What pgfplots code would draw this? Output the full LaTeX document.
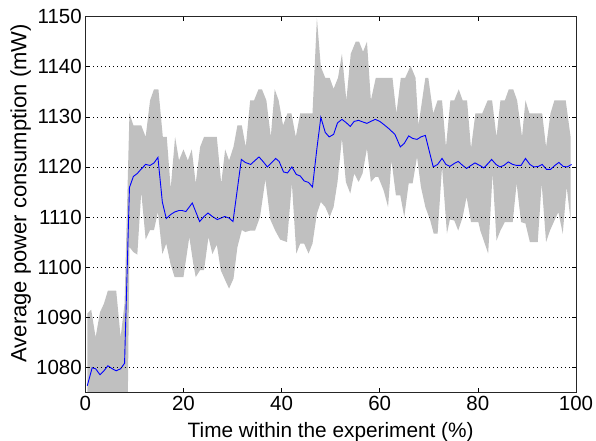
\documentclass[border=0pt]{standalone}
\usepackage{fontspec}
\setmainfont{Liberation Sans}
\usepackage{pgfplots}
\pgfplotsset{compat=1.18}
\definecolor{bandgray}{RGB}{192,192,192}

\begin{document}
\begin{tikzpicture}
\useasboundingbox (-85.3bp,-48.7bp) rectangle (510.7bp,392.3bp);
\begin{axis}[
  at={(0,0)}, anchor=south west,
  scale only axis,
  width=490.7bp, height=375.6bp,
  xmin=0, xmax=100, ymin=1075, ymax=1150,
  xtick={0,20,...,100}, ytick={1080,1090,...,1150},
  tick pos=both, tick align=inside,
  major tick length=4bp,
  tick style={black, line width=0.6bp},
  ymajorgrids,
  grid style={black, line width=0.7bp, dash pattern=on 0.7bp off 3.3bp},
  axis on top,
  axis line style={black!85, line width=1bp},
  /pgf/number format/assume math mode=true,
  /pgf/number format/set thousands separator={},
  tick label style={font=\fontsize{20.5bp}{24bp}\selectfont},
  xlabel={Time within the experiment (\%)},
  ylabel={Average power consumption (mW)},
  xlabel style={font=\fontsize{20.8bp}{24bp}\selectfont,
    at={(axis description cs:0.5,0)}, anchor=base, yshift=-45bp},
  ylabel style={font=\fontsize{22bp}{26bp}\selectfont,
    at={(axis description cs:0,0.53)}, anchor=base, yshift=59bp},
]
% spread of the measurements: upper edge, then lower edge backwards
\addplot[fill=bandgray, draw=none] coordinates {
  (0.4,1090.7) (1.2,1091.5) (2.1,1086) (3.0,1091) (3.8,1092.7) (4.6,1095.3)
  (6.3,1095.3) (7.2,1086) (8.0,1092.7) (9.0,1130.7) (9.8,1128.3) (11.4,1128.3)
  (12.3,1126) (13.2,1133.3) (14.0,1135.5) (14.9,1135.5) (15.8,1126) (16.6,1126)
  (17.4,1115.7) (18.3,1126) (19.1,1121.3) (20.0,1123.5) (20.9,1121.3) (21.7,1123.5)
  (22.5,1116.7) (23.4,1124) (24.2,1126) (26.8,1126) (27.7,1116.7) (28.5,1123.5)
  (29.3,1121.3) (30.2,1124) (31.0,1128.3) (31.9,1128.3) (32.7,1124) (33.6,1133.3)
  (34.4,1133.3) (35.3,1135.5) (36.0,1135.5) (36.9,1133.3) (37.8,1126) (38.6,1135.5)
  (39.4,1133.3) (40.3,1128.3) (41.2,1130.7) (42.0,1130.7) (42.9,1126) (43.8,1130.7)
  (46.3,1130.7) (47.2,1149.7) (48.0,1140) (48.9,1137.8) (49.8,1137.8) (50.6,1135.6)
  (51.5,1137.8) (52.3,1142.6) (53.2,1133.3) (54.1,1142.6) (55.1,1145) (55.8,1145)
  (56.6,1143) (57.4,1145) (58.2,1133.3) (59.2,1137.8) (62.6,1137.8) (63.4,1130.7)
  (64.3,1137.8) (65.2,1137.8) (66.3,1140.2) (67.3,1137.8) (67.9,1128.3) (69.3,1137.8)
  (69.9,1137.8) (70.9,1130.7) (71.8,1133.3) (72.7,1133.3) (73.5,1124) (74.4,1133.3)
  (75.2,1133.3) (76.1,1135.5) (76.9,1133.3) (77.8,1133.3) (78.6,1123.7) (79.5,1130.7)
  (80.9,1130.7) (82.0,1133.3) (82.9,1133.3) (83.8,1126) (84.6,1133.3) (85.5,1133.3)
  (86.3,1135.5) (87.2,1135.5) (88.0,1133.3) (89.0,1126) (89.7,1133.3) (90.5,1130.7)
  (93.1,1130.7) (93.9,1124) (94.8,1130.7) (95.6,1133.3) (97.9,1133.3) (98.9,1126)
  (98.9,1109.3) (98.1,1116) (97.3,1106.7) (96.4,1111) (95.6,1109.3) (94.7,1107.3)
  (93.9,1105) (93.0,1116.7) (92.2,1105) (90.6,1105) (89.7,1108.7) (88.8,1109)
  (87.9,1116.7) (87.1,1109) (85.5,1109) (84.6,1107.3) (83.8,1105.3) (83.0,1118.7)
  (82.1,1102.7) (80.5,1107.3) (80.1,1109) (78.6,1109) (77.7,1114) (76.9,1110)
  (76.0,1107.3) (75.2,1109.3) (74.3,1109.5) (73.7,1106.7) (72.7,1120) (71.8,1106.7)
  (71.0,1106.7) (70.3,1109.3) (69.3,1112) (68.4,1116) (67.6,1122) (66.7,1116.7)
  (65.9,1116.7) (65.0,1110) (64.2,1114.3) (63.3,1114.3) (62.4,1121.3) (61.7,1112)
  (60.8,1115.3) (59.7,1118) (59.1,1118) (58.2,1117) (57.4,1123.7) (56.5,1118.7)
  (55.7,1117) (54.8,1118.7) (54.0,1114.7) (53.1,1117) (52.3,1125.7) (51.4,1117)
  (50.6,1112) (49.8,1110) (48.9,1112) (48.0,1113) (47.2,1110.7) (46.3,1104.7)
  (45.5,1102.7) (44.6,1104.7) (43.8,1104.7) (43.0,1102.7) (42.1,1116.7) (41.1,1105)
  (39.7,1105.5) (38.7,1107.3) (37.7,1109.5) (36.7,1117.5) (35.6,1110) (34.6,1107.3)
  (33.6,1107.3) (32.6,1107) (31.9,1107.4) (31.0,1104) (30.2,1097.7) (29.3,1095.7)
  (28.5,1097.4) (27.6,1099.4) (26.8,1104.5) (25.9,1102.6) (25.1,1106) (24.2,1099.4)
  (23.4,1099.4) (22.5,1098) (22.0,1100.7) (21.2,1106) (20.0,1098) (18.2,1098)
  (17.4,1100.5) (16.5,1104.7) (15.7,1102.6) (14.8,1111) (14.0,1107.4) (13.2,1107.4)
  (12.3,1105.5) (11.4,1115) (10.6,1102.5) (9.8,1103) (9.0,1104) (8.6,1068)
  (0.4,1068)
} -- cycle;
% mean
\addplot[blue, line width=0.9bp] coordinates {
  (0.4,1076.3) (1.4,1079.9) (2.1,1079.7) (3.0,1078.5) (3.8,1079.3) (4.6,1080.3)
  (5.5,1079.7) (6.3,1079.3) (7.2,1079.7) (8.0,1080.8) (9.0,1115.9) (9.8,1118.1)
  (10.6,1118.7) (11.4,1119.6) (12.3,1120.5) (13.2,1120.3) (14.0,1120.8) (14.8,1121.9)
  (15.7,1113) (16.5,1109.7) (17.4,1110.5) (18.2,1111) (19.1,1111.3) (19.7,1111.3)
  (20.5,1111.1) (21.8,1112.8) (23.3,1109.1) (24.2,1110.1) (25.0,1110.8) (25.9,1110.1)
  (26.9,1109.5) (28.4,1110.1) (29.3,1109.8) (30.1,1109.1) (31.8,1121.5) (32.6,1120.9)
  (33.7,1120.5) (34.6,1121.3) (35.4,1122) (36.3,1121) (37.1,1120) (38.0,1120.9)
  (38.8,1121.7) (39.5,1121.1) (40.4,1119.0) (41.2,1118.8) (42.1,1120) (43.0,1118.5)
  (43.8,1118.2) (44.6,1117.2) (45.5,1116.9) (46.3,1116) (47.2,1123.7) (48.0,1129.9)
  (48.9,1126.9) (49.7,1126) (50.6,1126.5) (51.4,1128.8) (52.3,1129.5) (53.1,1128.9)
  (54.0,1128.1) (54.8,1129.1) (55.7,1129.3) (56.5,1129) (57.4,1128.7) (58.2,1129.1)
  (59.1,1129.5) (60.0,1129.1) (60.8,1128.5) (61.8,1127.7) (63.1,1126.5) (64.2,1124)
  (65.0,1124.7) (65.9,1126.2) (66.7,1125.7) (67.6,1125.5) (68.4,1126) (69.3,1126.3)
  (70.9,1120) (71.8,1120.5) (72.7,1121.7) (73.5,1120.5) (74.3,1120.1) (75.2,1120.7)
  (76.0,1121.1) (76.9,1120.3) (77.7,1119.7) (78.6,1120.3) (79.4,1120.8) (80.4,1120.3)
  (81.2,1119.8) (82.1,1120.7) (82.8,1121.5) (83.7,1120.5) (84.5,1120) (85.3,1120.3)
  (86.2,1121) (87.1,1120.5) (87.9,1120.3) (88.8,1120.3) (89.7,1121.7) (90.6,1120.5)
  (91.4,1120) (92.3,1120.1) (93.1,1120.5) (94.0,1119.5) (94.8,1119.5) (95.7,1120.3)
  (96.5,1120.9) (97.4,1120.1) (98.2,1120) (99.1,1120.5)
};
\end{axis}
\end{tikzpicture}
\end{document}
